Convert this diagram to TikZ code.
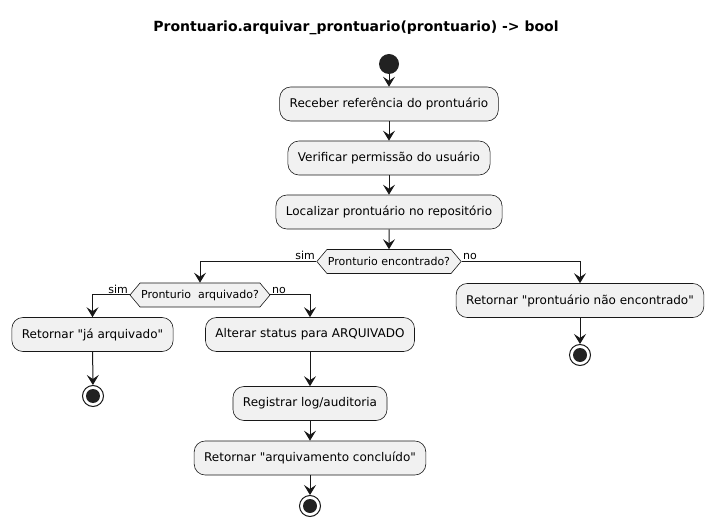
\documentclass[tikz,border=0pt]{standalone}
\usepackage{fontspec}
\setmainfont{DejaVu Sans}[Ligatures=TeXOff]
\usetikzlibrary{arrows.meta,shapes.symbols}
\definecolor{umlline}{HTML}{181818}
\definecolor{umlfill}{HTML}{F1F1F1}
\definecolor{umldot}{HTML}{222222}

\begin{document}
\begin{tikzpicture}[x=1pt, y=-1pt,
    action/.style={draw=umlline, fill=umlfill, rounded corners=11pt, line width=0.6pt,
        minimum height=34pt, inner xsep=10pt, font=\fontsize{12}{14}\selectfont},
    decision/.style={draw=umlline, fill=umlfill, signal, signal to=west and east,
        signal pointer angle=100, line width=0.6pt, minimum height=24pt,
        inner xsep=1pt, inner ysep=2pt, font=\fontsize{11}{13}\selectfont},
    flow/.style={line width=1pt, draw=umlline, -{Stealth[length=10pt, width=12pt, inset=4pt]}},
    guard/.style={inner sep=1.5pt, font=\fontsize{11}{13}\selectfont},
    startnode/.style={circle, fill=umldot, minimum size=20pt, inner sep=0pt},
    endnode/.style={circle, draw=umlline, line width=1pt, fill=white, minimum size=21pt, inner sep=0pt,
        path picture={\fill[umldot] (path picture bounding box.center) circle (7pt);}},
    ]
    \useasboundingbox (0,0) rectangle (714,526);
    % Title
    \node [font=\bfseries\fontsize{14}{16}\selectfont] (title) at (356,28)
        {Prontuario.arquivar\_prontuario(prontuario) -> bool};

    % Main flow
    \node [startnode] (start) at (389,64) {};
    \node [action] (receber) at (389,104) {Receber referência do prontuário};
    \node [action] (verificar) at (389,158) {Verificar permissão do usuário};
    \node [action] (localizar) at (389,212) {Localizar prontuário no repositório};
    \node [decision] (encontrado) at (389,261.5) {Pronturio encontrado?};
    \draw [flow] (start) -- (receber);
    \draw [flow] (receber) -- (verificar);
    \draw [flow] (verificar) -- (localizar);
    \draw [flow] (localizar) -- (encontrado);

    % Not found
    \node [action] (naoenc) at (580,300.5) {Retornar "prontuário não encontrado"};
    \node [endnode] (fim2) at (580,355) {};
    \draw [flow] (encontrado.east) -| (naoenc.north);
    \draw [flow] (naoenc) -- (fim2);
    \node [guard, anchor=south west] (lno1) at (encontrado.east) {no};

    % Found
    \node [decision] (arquivado) at (200,295) {Pronturio\ \ arquivado?};
    \draw [flow] (encontrado.west) -| (arquivado.north);
    \node [guard, anchor=south east] (lsim1) at (encontrado.west) {sim};

    \node [action] (jaarq) at (92.5,334.5) {Retornar "já arquivado"};
    \node [endnode] (fim1) at (93,396) {};
    \draw [flow] (arquivado.west) -| (jaarq.north);
    \draw [flow] (jaarq) -- (fim1);
    \node [guard, anchor=south east] (lsim2) at (arquivado.west) {sim};

    \node [action] (alterar) at (310,334.5) {Alterar status para ARQUIVADO};
    \node [action] (registrar) at (310,403.5) {Registrar log/auditoria};
    \node [action] (concluido) at (310,458) {Retornar "arquivamento concluído"};
    \node [endnode] (fim3) at (310,506) {};
    \draw [flow] (arquivado.east) -| (alterar.north);
    \node [guard, anchor=south west] (lno2) at (arquivado.east) {no};
    \draw [flow] (alterar) -- (registrar);
    \draw [flow] (registrar) -- (concluido);
    \draw [flow] (concluido) -- (fim3);
\end{tikzpicture}
\end{document}
